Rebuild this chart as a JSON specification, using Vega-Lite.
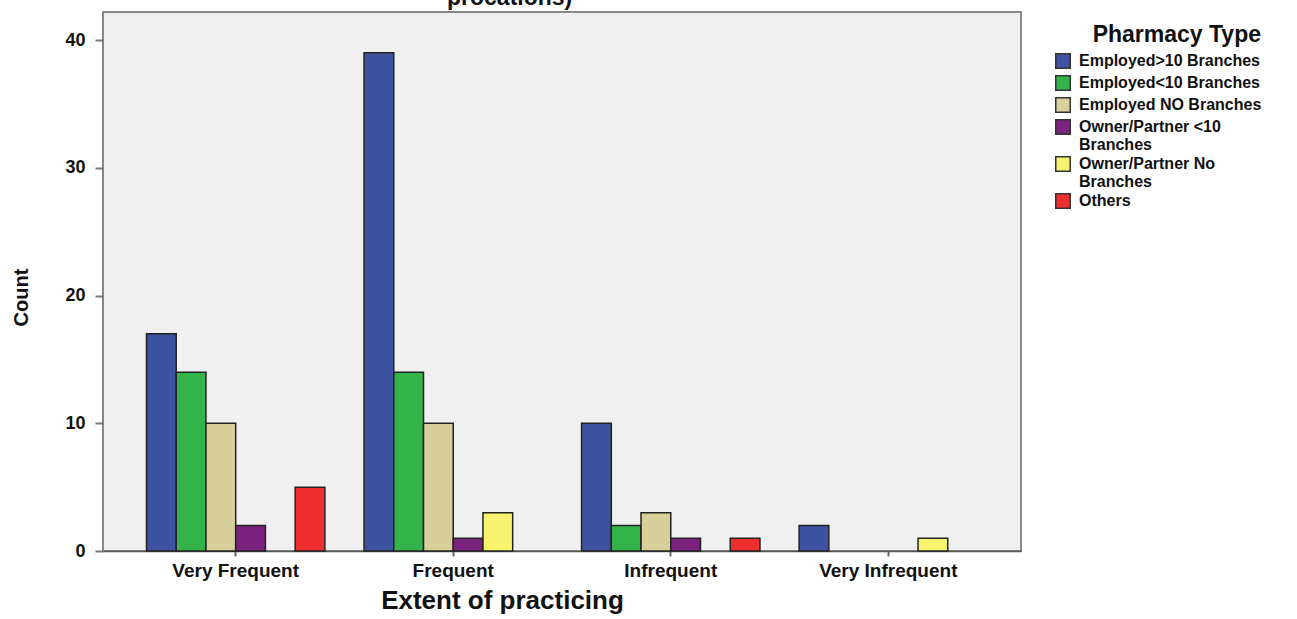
{
  "$schema": "https://vega.github.io/schema/vega-lite/v6.json",
  "width": 918,
  "height": 539,
  "autosize": {"type": "none"},
  "padding": {"left": 103, "top": 12, "right": 276, "bottom": 68},
  "background": "white",
  "title": {
    "text": "procations)",
    "fontSize": 23,
    "fontWeight": "bold",
    "font": "Liberation Sans",
    "color": "#111",
    "baseline": "alphabetic",
    "anchor": "start",
    "frame": "group",
    "dx": 344,
    "offset": 0,
    "dy": 16
  },
  "data": {
    "values": [
      {"extent": "Very Frequent", "type": "Employed>10 Branches", "count": 17},
      {"extent": "Very Frequent", "type": "Employed<10 Branches", "count": 14},
      {"extent": "Very Frequent", "type": "Employed NO Branches", "count": 10},
      {"extent": "Very Frequent", "type": "Owner/Partner <10 Branches", "count": 2},
      {"extent": "Very Frequent", "type": "Others", "count": 5},
      {"extent": "Frequent", "type": "Employed>10 Branches", "count": 39},
      {"extent": "Frequent", "type": "Employed<10 Branches", "count": 14},
      {"extent": "Frequent", "type": "Employed NO Branches", "count": 10},
      {"extent": "Frequent", "type": "Owner/Partner <10 Branches", "count": 1},
      {"extent": "Frequent", "type": "Owner/Partner No Branches", "count": 3},
      {"extent": "Infrequent", "type": "Employed>10 Branches", "count": 10},
      {"extent": "Infrequent", "type": "Employed<10 Branches", "count": 2},
      {"extent": "Infrequent", "type": "Employed NO Branches", "count": 3},
      {"extent": "Infrequent", "type": "Owner/Partner <10 Branches", "count": 1},
      {"extent": "Infrequent", "type": "Others", "count": 1},
      {"extent": "Very Infrequent", "type": "Employed>10 Branches", "count": 2},
      {"extent": "Very Infrequent", "type": "Owner/Partner No Branches", "count": 1}
    ]
  },
  "mark": {"type": "bar", "stroke": "#222", "strokeWidth": 1.5},
  "encoding": {
    "x": {
      "field": "extent",
      "type": "nominal",
      "sort": ["Very Frequent", "Frequent", "Infrequent", "Very Infrequent"],
      "scale": {"paddingInner": 0.18, "paddingOuter": 0.2},
      "axis": {
        "title": "Extent of practicing",
        "titleFontSize": 26,
        "titlePadding": 7,
        "titleX": 399,
        "labelFontSize": 19,
        "labelAngle": 0,
        "labelPadding": 5,
        "tickSize": 5,
        "tickColor": "#666",
        "tickWidth": 2,
        "domain": true,
        "domainColor": "#555",
        "domainWidth": 1.5
      }
    },
    "xOffset": {
      "field": "type",
      "type": "nominal",
      "scale": {
        "domain": ["Employed>10 Branches", "Employed<10 Branches", "Employed NO Branches", "Owner/Partner <10 Branches", "Owner/Partner No Branches", "Others"],
        "paddingInner": 0,
        "paddingOuter": 0
      }
    },
    "y": {
      "field": "count",
      "type": "quantitative",
      "scale": {"domain": [0, 42.2], "nice": false},
      "axis": {
        "title": "Count",
        "titleFontSize": 20,
        "titlePadding": 33,
        "titleY": 285,
        "labelFontSize": 18,
        "labelPadding": 10,
        "values": [0, 10, 20, 30, 40],
        "tickSize": 8,
        "tickColor": "#777",
        "tickWidth": 2,
        "grid": false,
        "domain": false
      }
    },
    "color": {
      "field": "type",
      "type": "nominal",
      "scale": {
        "domain": ["Employed>10 Branches", "Employed<10 Branches", "Employed NO Branches", "Owner/Partner <10 Branches", "Owner/Partner No Branches", "Others"],
        "range": ["#3d52a1", "#33b44a", "#d8cf9b", "#7b217e", "#f7f36c", "#ee2d2f"]
      },
      "legend": {
        "title": "Pharmacy Type",
        "orient": "none",
        "legendX": 952,
        "legendY": 12,
        "titleFontSize": 23,
        "titleAnchor": "end",
        "titlePadding": 6,
        "labelFontSize": 16,
        "labelOffset": 8,
        "labelLimit": 300,
        "symbolType": "square",
        "symbolSize": 210,
        "symbolStrokeColor": "#333",
        "symbolStrokeWidth": 1.5,
        "rowPadding": 0,
        "labelExpr": "datum.label == 'Owner/Partner <10 Branches' ? ['Owner/Partner <10', 'Branches'] : datum.label == 'Owner/Partner No Branches' ? ['Owner/Partner No', 'Branches'] : datum.label"
      }
    }
  },
  "config": {
    "font": "Liberation Sans",
    "view": {"fill": "#f0f0f0", "stroke": "#888", "strokeWidth": 2},
    "axis": {
      "labelFont": "Liberation Sans",
      "titleFont": "Liberation Sans",
      "labelFontWeight": "bold",
      "titleFontWeight": "bold",
      "labelColor": "#111",
      "titleColor": "#111"
    },
    "legend": {
      "labelFont": "Liberation Sans",
      "titleFont": "Liberation Sans",
      "labelFontWeight": "bold",
      "titleFontWeight": "bold",
      "labelColor": "#111",
      "titleColor": "#111"
    }
  }
}
